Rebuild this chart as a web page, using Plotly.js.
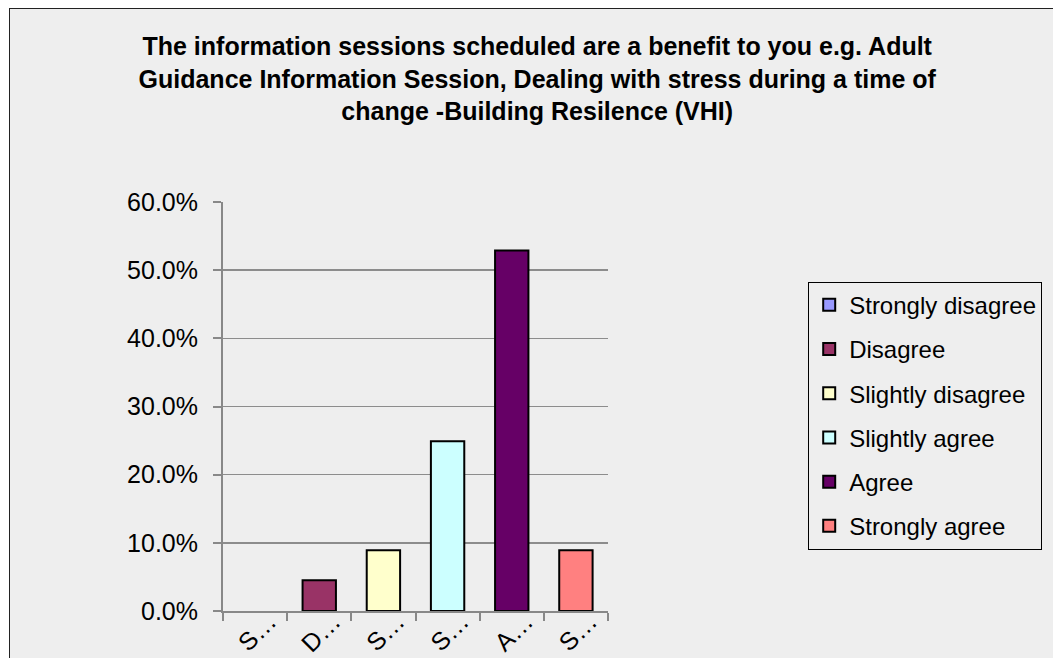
<!DOCTYPE html>
<html>
<head>
<meta charset="utf-8">
<script src="https://cdn.plot.ly/plotly-3.0.1.min.js"></script>
<style>
  html, body { margin: 0; padding: 0; background: #ffffff; }
  #chart {
    position: absolute; left: 9px; top: 8px;
    width: 1044px; height: 650px;
    border-left: 1px solid #222; border-top: 1px solid #222;
    box-sizing: border-box;
  }
</style>
</head>
<body>
<div id="chart"></div>
<script>
const titleText = "The information sessions scheduled are a benefit to you e.g. Adult<br>Guidance Information Session, Dealing with stress during a time of<br>change -Building Resilence (VHI)";
const categories = ["Strongly disagree", "Disagree", "Slightly disagree", "Slightly agree", "Agree", "Strongly agree"];
const values = [0, 0.045, 0.089, 0.249, 0.529, 0.089];
const barColors = ["#9999FF", "#993366", "#FFFFCC", "#CCFFFF", "#660066", "#FF8080"];
const tickLabels = ["S…", "D…", "S…", "S…", "A…", "S…"];
const yTicks = [0, 0.1, 0.2, 0.3, 0.4, 0.5, 0.6];

const FONT = "Liberation Sans, Arial, sans-serif";

// a 0 value has no visible bar in the reference (no outline drawn on the axis)
const traces = categories.map((c, i) => ({
  type: "bar",
  name: c,
  x: [c],
  y: [values[i] === 0 ? null : values[i]],
  width: 0.52,
  legendgroup: "g" + i,
  marker: { color: barColors[i], line: { color: "#000000", width: 2 } },
  hoverinfo: "skip"
}));

const layout = {
  width: 1044, height: 650,
  paper_bgcolor: "#eeeeee",
  plot_bgcolor: "#eeeeee",
  margin: { l: 213, r: 446, t: 193, b: 48, pad: 0 },
  barmode: "overlay",
  showlegend: true,
  font: { family: FONT, color: "#000000" },
  title: {
    text: titleText,
    font: { family: FONT, size: 25, color: "#000000", weight: "bold" },
    xref: "container", x: 0.505, xanchor: "center",
    yref: "container", y: 0.929, yanchor: "top"
  },
  xaxis: {
    type: "category",
    categoryorder: "array",
    categoryarray: categories,
    tickvals: categories,
    ticktext: tickLabels,
    tickangle: -45,
    tickfont: { family: FONT, size: 25, color: "#000000" },
    showline: true, linecolor: "#888888", linewidth: 2,
    ticks: "outside", tickson: "boundaries", ticklen: 8, tickcolor: "#888888", tickwidth: 2,
    showgrid: false, zeroline: false,
    layer: "above traces",
    ticklabelshift: 14,
    ticklabelstandoff: -16,
    range: [-0.5, 5.5]
  },
  yaxis: {
    range: [0, 0.6],
    tickvals: yTicks,
    tickformat: ".1%",
    tickfont: { family: FONT, size: 25, color: "#000000" },
    showline: true, linecolor: "#888888", linewidth: 2,
    ticks: "outside", ticklen: 8, tickcolor: "#888888", tickwidth: 2,
    showgrid: true, gridcolor: "#8c8c8c", gridwidth: 1.5,
    zeroline: false,
    ticklabelstandoff: 10
  },
  legend: {
    x: 1.52, xanchor: "left", xref: "paper",
    y: 0.805, yanchor: "top", yref: "paper",
    bgcolor: "#eeeeee",
    bordercolor: "#000000", borderwidth: 1,
    font: { family: FONT, size: 24, color: "#000000" },
    traceorder: "grouped",
    tracegroupgap: 10,
    itemclick: false, itemdoubleclick: false
  }
};

Plotly.newPlot("chart", traces, layout, { staticPlot: true, displayModeBar: false });
</script>
</body>
</html>
